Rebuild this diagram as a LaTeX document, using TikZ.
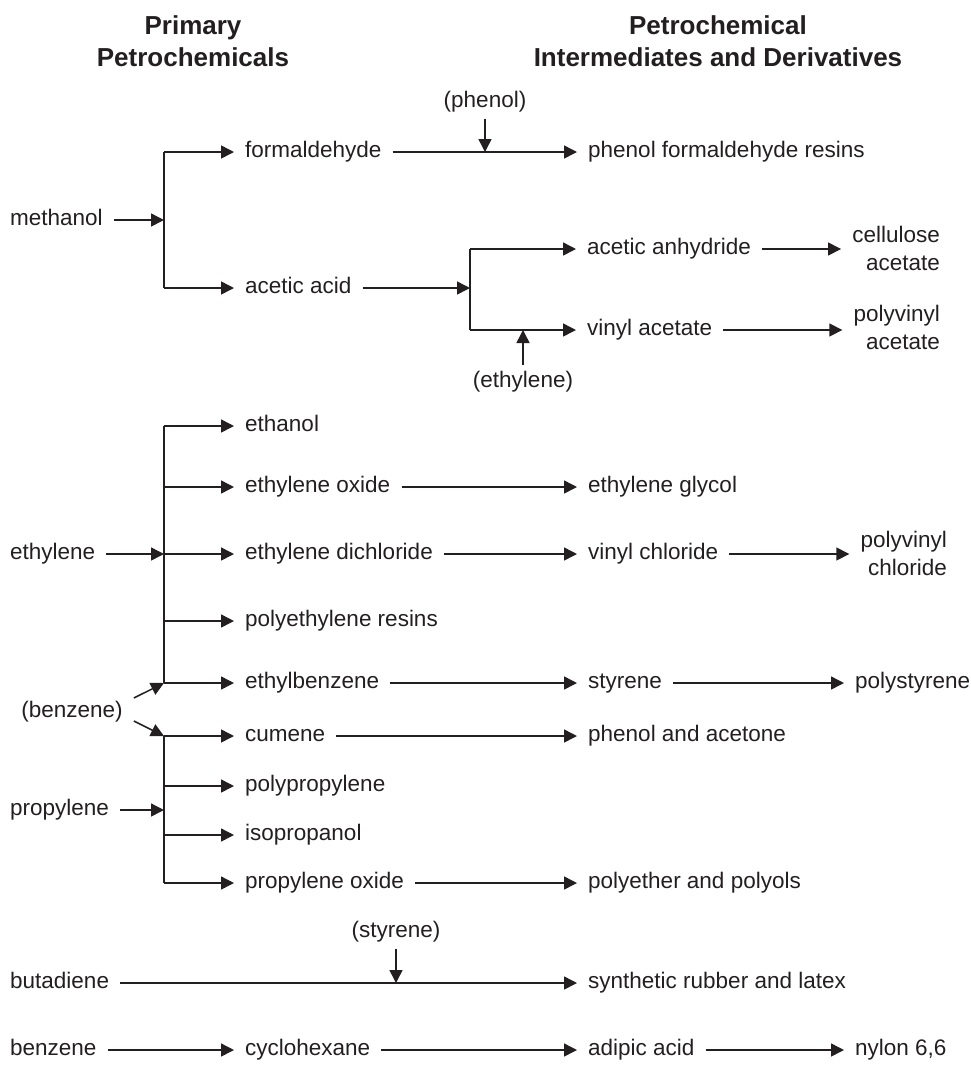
\documentclass[tikz,border=0pt]{standalone}
\usepackage{fontspec}
\setmainfont{Liberation Sans}
\usetikzlibrary{arrows.meta}
\newcommand\itemfont{\fontsize{22.5}{28}\selectfont}
\newcommand\hdrfont{\fontsize{26}{32}\selectfont\bfseries}
\definecolor{ink}{HTML}{231F20}
\begin{document}
\begin{tikzpicture}[x=1pt,y=-1pt,
  ln/.style={draw=ink, line width=1.5pt},
  arr/.style={ln, -{Triangle[length=13pt,width=13pt]}},
  item/.style={font=\itemfont, text=ink, inner xsep=11pt, inner ysep=6pt, text height=16.2pt, text depth=4.5pt},
  two/.style={font=\itemfont, text=ink, inner xsep=11pt, align=right},
  hdr/.style={font=\hdrfont, text=ink, align=center}]
\useasboundingbox (0,0) rectangle (970,1069);

% headers
\node[hdr] (h1) at (193,41) {Primary\\Petrochemicals};
\node[hdr] (h2) at (718,41) {Petrochemical\\Intermediates and Derivatives};

% methanol
\node[item,anchor=west] (methanol) at (-1,220) {methanol};
\coordinate (mj) at (164,220);
\coordinate (mt) at (164,152);
\coordinate (mb) at (164,288);
\node[item,anchor=west] (formaldehyde) at (234,152) {formaldehyde};
\node[item,anchor=west] (acetic) at (234,288) {acetic acid};
\node[item,anchor=west] (pfr) at (577,152) {phenol formaldehyde resins};
\node[item] (phenol) at (485,102) {(phenol)};
\draw[arr] (methanol) -- (mj);
\draw[ln] (mt) -- (mb);
\draw[arr] (mt) -- (formaldehyde);
\draw[arr] (mb) -- (acetic);
\draw[arr] (formaldehyde) -- (pfr);
\draw[arr] (phenol) -- (phenol |- pfr);

\coordinate (aj) at (470,288);
\coordinate (at) at (470,249);
\coordinate (ab) at (470,330);
\node[item,anchor=west] (anhydride) at (576,249) {acetic anhydride};
\node[item,anchor=west] (vinylac) at (576,330) {vinyl acetate};
\node[two,anchor=east] (cellac) at (951,248) {cellulose\\acetate};
\node[two,anchor=east] (pvac) at (951,327) {polyvinyl\\acetate};
\node[item] (ethin) at (523,382) {(ethylene)};
\draw[arr] (acetic) -- (aj);
\draw[ln] (at) -- (ab);
\draw[arr] (at) -- (anhydride);
\draw[arr] (ab) -- (vinylac);
\draw[arr] (anhydride) -- (anhydride -| cellac.west);
\draw[arr] (vinylac) -- (vinylac -| pvac.west);
\draw[arr] (ethin) -- (ethin |- vinylac);

% ethylene
\node[item,anchor=west] (ethylene) at (-1,554) {ethylene};
\coordinate (e1) at (164,426);
\coordinate (e2) at (164,487);
\coordinate (e3) at (164,554);
\coordinate (e4) at (164,621);
\coordinate (e5) at (164,683);
\node[item,anchor=west] (ethanol) at (234,426) {ethanol};
\node[item,anchor=west] (eo) at (234,487) {ethylene oxide};
\node[item,anchor=west] (edc) at (234,554) {ethylene dichloride};
\node[item,anchor=west] (pe) at (234,621) {polyethylene resins};
\node[item,anchor=west] (eb) at (234,683) {ethylbenzene};
\node[item,anchor=west] (eg) at (577,487) {ethylene glycol};
\node[item,anchor=west] (vc) at (577,554) {vinyl chloride};
\node[two,anchor=east] (pvc) at (958,553) {polyvinyl\\chloride};
\node[item,anchor=west] (styrene) at (577,683) {styrene};
\node[item,anchor=west] (ps) at (844,683) {polystyrene};
\draw[ln] (e1) -- (e5);
\draw[arr] (ethylene) -- (e3);
\draw[arr] (e1) -- (ethanol);
\draw[arr] (e2) -- (eo);
\draw[arr] (e3) -- (edc);
\draw[arr] (e4) -- (pe);
\draw[arr] (e5) -- (eb);
\draw[arr] (eo) -- (eg);
\draw[arr] (edc) -- (vc);
\draw[arr] (vc) -- (vc -| pvc.west);
\draw[arr] (eb) -- (styrene);
\draw[arr] (styrene) -- (ps);

% benzene feed
\node[item] (benzin) at (72,712) {(benzene)};

% propylene
\node[item,anchor=west] (propylene) at (-1,810) {propylene};
\coordinate (p1) at (164,736);
\coordinate (p2) at (164,786);
\coordinate (pj) at (164,810);
\coordinate (p3) at (164,835);
\coordinate (p4) at (164,883);
\node[item,anchor=west] (cumene) at (234,736) {cumene};
\node[item,anchor=west] (pp) at (234,786) {polypropylene};
\node[item,anchor=west] (ipa) at (234,835) {isopropanol};
\node[item,anchor=west] (po) at (234,883) {propylene oxide};
\node[item,anchor=west] (pa) at (577,736) {phenol and acetone};
\node[item,anchor=west] (pol) at (577,883) {polyether and polyols};
\draw[ln] (p1) -- (p4);
\draw[arr] (propylene) -- (pj);
\draw[arr] (p1) -- (cumene);
\draw[arr] (p2) -- (pp);
\draw[arr] (p3) -- (ipa);
\draw[arr] (p4) -- (po);
\draw[arr] (cumene) -- (pa);
\draw[arr] (po) -- (pol);
\draw[arr] ([yshift=14pt]benzin.east) -- (e5);
\draw[arr] ([yshift=-9pt]benzin.east) -- (p1);

% butadiene
\node[item,anchor=west] (butadiene) at (-1,983) {butadiene};
\node[item,anchor=west] (rubber) at (577,983) {synthetic rubber and latex};
\node[item] (styin) at (396,932) {(styrene)};
\draw[arr] (butadiene) -- (rubber);
\draw[arr] (styin) -- (styin |- rubber);

% benzene
\node[item,anchor=west] (benzene) at (-1,1050) {benzene};
\node[item,anchor=west] (chx) at (234,1050) {cyclohexane};
\node[item,anchor=west] (adipic) at (577,1050) {adipic acid};
\node[item,anchor=west] (nylon) at (844,1050) {nylon 6,6};
\draw[arr] (benzene) -- (chx);
\draw[arr] (chx) -- (adipic);
\draw[arr] (adipic) -- (nylon);
\end{tikzpicture}
\end{document}
